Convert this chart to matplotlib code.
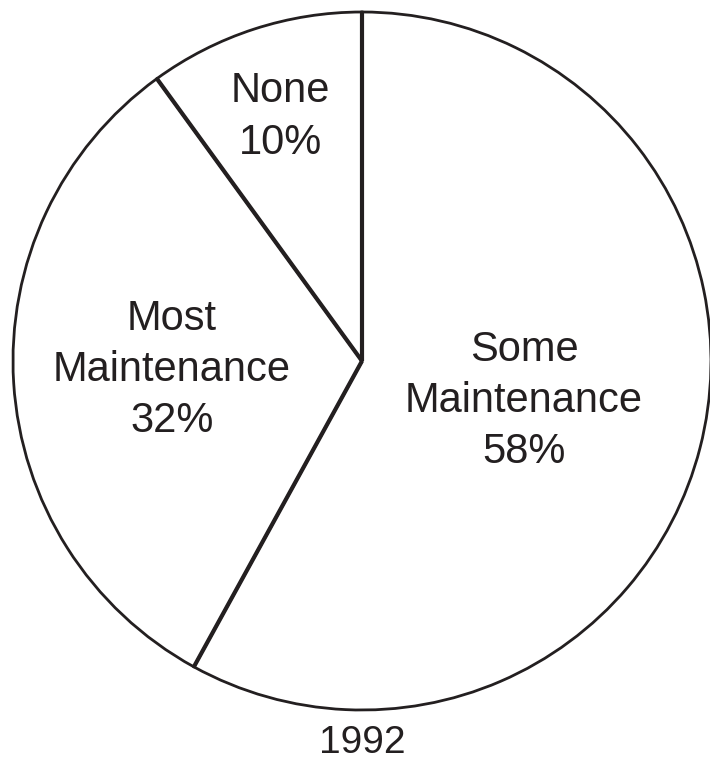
import numpy as np
import matplotlib
matplotlib.use("Agg")
import matplotlib.pyplot as plt

# Share of maintenance, 1992
categories = ["Some\nMaintenance", "Most\nMaintenance", "None"]
shares = [58, 32, 10]
year = "1992"

ink = "#231f20"
plt.rcParams["font.family"] = ["Liberation Sans", "DejaVu Sans"]

fig = plt.figure(figsize=(7.1, 7.6), dpi=100)
ax = fig.add_axes([0, 0, 1, 1])

cx, cy, r = 362, 399, 349
ax.pie(shares, startangle=90, counterclock=False, center=(cx, cy), radius=r,
       colors=["white"] * len(shares),
       wedgeprops=dict(edgecolor=ink, linewidth=2.0))

# heavier divider lines between the slices
bounds = 90 - 360 * np.cumsum([0] + shares[:-1]) / sum(shares)
for a in np.radians(bounds):
    ax.plot([cx, cx + r * np.cos(a)], [cy, cy + r * np.sin(a)],
            color=ink, lw=3.0, solid_capstyle="butt")

label_pos = [(524, 760 - 401), (172, 760 - 370), (280, 760 - 117)]
for name, val, (x, y) in zip(categories, shares, label_pos):
    ax.text(x, y, f"{name}\n{val}%", ha="center", va="center",
            fontsize=30, color=ink, linespacing=1.37)

ax.text(cx, 760 - 743, year, ha="center", va="center", fontsize=28, color=ink)

ax.set_xlim(0, 710)
ax.set_ylim(0, 760)
ax.axis("off")
fig.savefig("out.png", dpi=100, facecolor="white")
